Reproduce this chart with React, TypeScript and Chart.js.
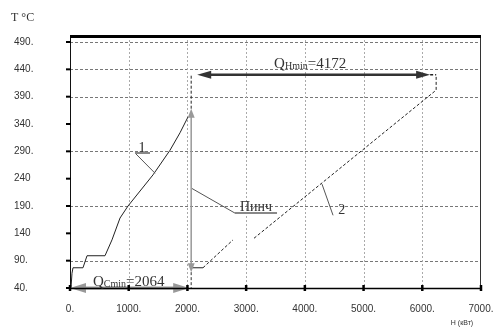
import React, { useEffect, useRef } from "react";
import { Chart, registerables } from "chart.js";

Chart.register(...registerables);

// ---- data ----
const xTicks = [0, 1000, 2000, 3000, 4000, 5000, 6000, 7000];
const xTickLabels = ["0.", "1000.", "2000.", "3000.", "4000.", "5000.", "6000.", "7000."];
const yTicks = [40, 90, 140, 190, 240, 290, 340, 390, 440, 490];
const yTickLabels = ["40.", "90.", "140", "190.", "240", "290.", "340.", "390.", "440.", "490."];
const yGridValues = [90, 190, 290, 390, 440, 490];
const xGridValues = [1000, 2000, 3000, 4000, 5000, 6000];

// curve 1 (hot composite)
const curve1X = [17, 34, 51, 221, 290, 596, 715, 852, 988, 1414, 1703, 1874, 2010];
const curve1Y = [40, 67, 77, 77, 99, 99, 128, 168, 190, 247, 292, 324, 353];

// curve 2 (cold composite), null = gap
const curve2X = [2064, 2265, 2776, 2950, 3134, 6236, 6236];
const curve2Y = [77, 77, 128, null, 131, 402, 430];

// utility values
const qcMin = 2064;
const qhMin = 4172;
const qhLevel = 430;
const pinchArrowBottom = 69;
const pinchArrowTop = 368;

const SERIF = "'Liberation Serif', 'DejaVu Serif', serif";
const SANS = "'Liberation Sans', Arial, sans-serif";

function arrowHead(ctx: CanvasRenderingContext2D, tx: number, ty: number, dx: number, dy: number, len: number, hw: number, color: string) {
  const bx = tx - dx * len;
  const by = ty - dy * len;
  const px = -dy, py = dx;
  ctx.save();
  ctx.fillStyle = color;
  ctx.beginPath();
  ctx.moveTo(tx, ty);
  ctx.lineTo(bx + px * hw, by + py * hw);
  ctx.lineTo(bx - px * hw, by - py * hw);
  ctx.closePath();
  ctx.fill();
  ctx.restore();
}

function line(ctx: CanvasRenderingContext2D, x1: number, y1: number, x2: number, y2: number, color: string, w: number, dash: number[] = []) {
  ctx.save();
  ctx.strokeStyle = color;
  ctx.lineWidth = w;
  ctx.setLineDash(dash);
  ctx.beginPath();
  ctx.moveTo(x1, y1);
  ctx.lineTo(x2, y2);
  ctx.stroke();
  ctx.restore();
}

function subLabel(ctx: CanvasRenderingContext2D, cx: number, cy: number, main: string, sub: string, rest: string, color: string) {
  ctx.save();
  ctx.fillStyle = color;
  ctx.textBaseline = "alphabetic";
  const big = `15px ${SERIF}`;
  const small = `10px ${SERIF}`;
  ctx.font = big;
  const w1 = ctx.measureText(main).width;
  const w3 = ctx.measureText(rest).width;
  ctx.font = small;
  const w2 = ctx.measureText(sub).width;
  let x = cx - (w1 + w2 + w3) / 2;
  const base = cy + 5;
  ctx.font = big;
  ctx.fillText(main, x, base);
  x += w1;
  ctx.font = small;
  ctx.fillText(sub, x, base + 1);
  x += w2;
  ctx.font = big;
  ctx.fillText(rest, x, base);
  ctx.restore();
}

const backgroundPlugin = {
  id: "bgDecor",
  beforeDatasetsDraw(chart: any) {
    const ctx: CanvasRenderingContext2D = chart.ctx;
    const { left, right, top, bottom } = chart.chartArea;
    const xs = chart.scales.x;
    const ys = chart.scales.y;
    yGridValues.forEach((v) => {
      const y = Math.round(ys.getPixelForValue(v)) + 0.5;
      line(ctx, left, y, right, y, "#777", 1, [3, 2]);
    });
    xGridValues.forEach((v) => {
      const x = Math.round(xs.getPixelForValue(v)) + 0.5;
      line(ctx, x, top, x, bottom, "#aaa", 1, [2, 2]);
    });
    line(ctx, left + 0.5, top, left + 0.5, bottom, "#111", 1);
    line(ctx, right - 0.5, top, right - 0.5, bottom, "#333", 1);
    line(ctx, left, top + 0.5, right, top + 0.5, "#000", 3);
  },
  afterDatasetsDraw(chart: any) {
    const ctx: CanvasRenderingContext2D = chart.ctx;
    const { left, right, bottom } = chart.chartArea;
    const xs = chart.scales.x;
    const ys = chart.scales.y;
    const X = (v: number) => xs.getPixelForValue(v);
    const Y = (v: number) => ys.getPixelForValue(v);

    // QC min arrow (gray, on x axis)
    const yAxis = Y(40);
    const x0 = X(0);
    const xC = X(qcMin);
    line(ctx, x0 + 10, yAxis, xC - 10, yAxis, "#999", 3);
    arrowHead(ctx, x0, yAxis, -1, 0, 16, 5, "#999");
    arrowHead(ctx, xC - 2, yAxis, 1, 0, 16, 5, "#999");

    line(ctx, left, Math.round(bottom) + 0.5, right, Math.round(bottom) + 0.5, "#000", 1.5);

    xTicks.forEach((v) => {
      const x = X(v);
      line(ctx, x, bottom - 3, x, bottom + 3, "#000", 2.5);
    });
    yTicks.forEach((v) => {
      const y = Y(v);
      line(ctx, left - 4, y, left + 1, y, "#000", 2);
    });

    // pinch vertical gray arrow
    line(ctx, xC, Y(pinchArrowBottom) - 6, xC, Y(pinchArrowTop) + 6, "#999", 1.5);
    arrowHead(ctx, xC, Y(pinchArrowTop), 0, -1, 9, 3.5, "#999");
    arrowHead(ctx, xC, Y(pinchArrowBottom), 0, 1, 9, 3.5, "#999");
    line(ctx, xC, Y(pinchArrowBottom), xC, yAxis, "#333", 1, [3, 2]);
    line(ctx, xC, Y(pinchArrowTop), xC, Y(qhLevel), "#222", 1, [3, 2]);

    // QH min arrow
    const xH = X(qcMin + qhMin);
    const yH = Y(qhLevel);
    const xl = X(qcMin) + 6;
    const xr = xH - 6;
    line(ctx, xl + 10, yH, xr - 10, yH, "#333", 2.5);
    arrowHead(ctx, xl, yH, -1, 0, 14, 4, "#333");
    arrowHead(ctx, xr, yH, 1, 0, 14, 4, "#333");
    line(ctx, xr, yH, xH, yH, "#222", 1.5, [3, 2]);

    subLabel(ctx, X(4090), Y(452), "Q", "Hmin", "=4172", "#333");
    subLabel(ctx, X(1000), Y(52), "Q", "Cmin", "=2064", "#333");

    // leader "1"
    line(ctx, X(1107), Y(287), X(1448), Y(250), "#555", 1);
    line(ctx, X(1107), Y(287), X(1363), Y(287), "#888", 2);
    ctx.save();
    ctx.fillStyle = "#333";
    ctx.font = `15px ${SERIF}`;
    ctx.textAlign = "center";
    ctx.textBaseline = "alphabetic";
    ctx.fillText("1", X(1226), Y(289));
    ctx.restore();
    // leader "Пинч"
    line(ctx, X(2078), Y(222), X(2810), Y(177), "#555", 1);
    line(ctx, X(2810), Y(177), X(3526), Y(177), "#888", 2);
    ctx.save();
    ctx.fillStyle = "#333";
    ctx.font = `14px ${SERIF}`;
    ctx.textAlign = "center";
    ctx.textBaseline = "alphabetic";
    ctx.fillText("Пинч", X(3168), Y(180));
    ctx.fillText("2", X(4630), Y(176));
    ctx.restore();
    line(ctx, X(4292), Y(230), X(4480), Y(173), "#555", 1);

    // axis titles
    ctx.save();
    ctx.fillStyle = "#333";
    ctx.font = `12px ${SERIF}`;
    ctx.textAlign = "left";
    ctx.textBaseline = "middle";
    ctx.fillText("T °C", 11, 18);
    ctx.font = `7px ${SANS}`;
    ctx.textAlign = "center";
    ctx.fillText("H (кВт)", 462, 323);
    ctx.restore();
  },
};

export default function App() {
  const ref = useRef<HTMLCanvasElement | null>(null);
  useEffect(() => {
    document.body.style.margin = "0";
    const canvas = ref.current;
    if (!canvas) return;
    const d1 = curve1X.map((x, i) => ({ x, y: curve1Y[i] }));
    const d2 = curve2X.map((x, i) => ({ x, y: curve2Y[i] }));
    const chart = new Chart(canvas, {
      type: "line",
      data: {
        datasets: [
          {
            data: d1 as any,
            borderColor: "#222",
            borderWidth: 1,
            pointRadius: 0,
            tension: 0,
          },
          {
            data: d2 as any,
            borderColor: "#222",
            borderWidth: 1,
            pointRadius: 0,
            tension: 0,
            spanGaps: false,
            segment: {
              borderDash: (c: any) => (c.p0.parsed.x < 2200 ? [] : [3, 2]),
            },
          },
        ],
      },
      options: {
        responsive: false,
        animation: false,
        layout: { padding: { left: 14, right: 16, top: 36, bottom: 0 } },
        plugins: { legend: { display: false }, tooltip: { enabled: false } },
        scales: {
          x: {
            type: "linear",
            min: 0,
            max: 7000,
            grid: { display: false },
            border: { display: false },
            afterBuildTicks: (s: any) => {
              s.ticks = xTicks.map((v) => ({ value: v }));
            },
            afterFit: (s: any) => {
              s.height = 41;
              s.paddingLeft = 0;
              s.paddingRight = 0;
            },
            ticks: {
              autoSkip: false,
              maxRotation: 0,
              padding: 7,
              color: "#333",
              font: { family: SANS, size: 10 },
              callback: (_v: any, i: number) => xTickLabels[i],
            },
          },
          y: {
            type: "linear",
            min: 40,
            max: 501,
            grid: { display: false },
            border: { display: false },
            afterBuildTicks: (s: any) => {
              s.ticks = yTicks.map((v) => ({ value: v }));
            },
            afterFit: (s: any) => {
              s.width = 56;
              s.paddingTop = 0;
              s.paddingBottom = 0;
            },
            ticks: {
              autoSkip: false,
              crossAlign: "far",
              padding: 0,
              color: "#333",
              font: { family: SANS, size: 10 },
              callback: (_v: any, i: number) => yTickLabels[i],
            },
          },
        },
      },
      plugins: [backgroundPlugin as any],
    });
    return () => chart.destroy();
  }, []);
  return (
    <canvas
      ref={ref}
      width={497}
      height={329}
      style={{ display: "block", width: 497, height: 329 }}
    />
  );
}
